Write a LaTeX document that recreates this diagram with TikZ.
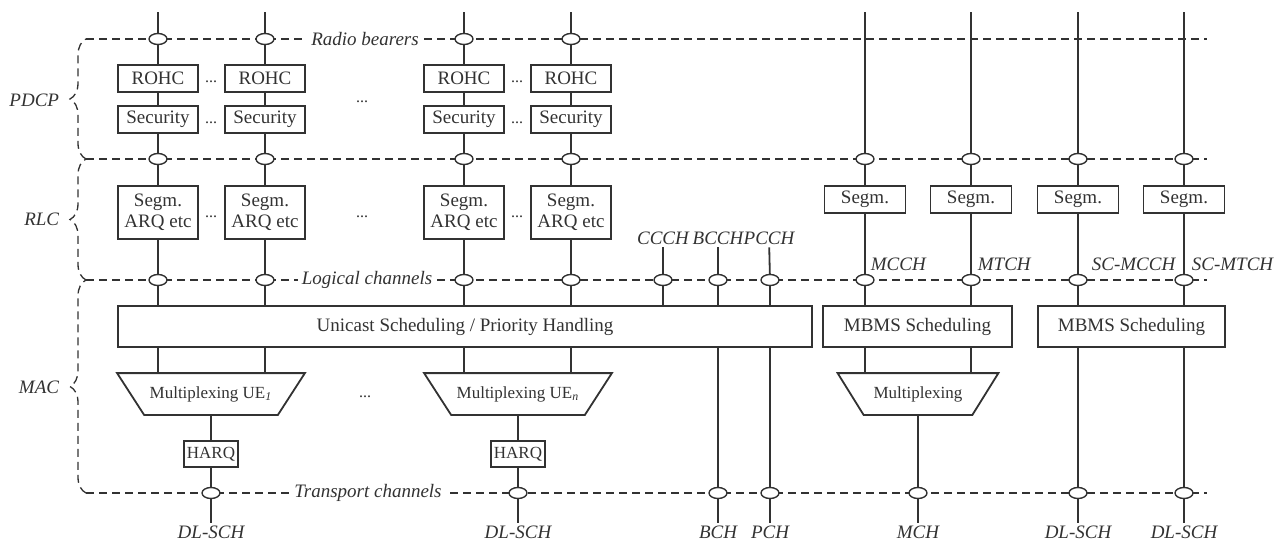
\documentclass[tikz,border=0pt]{standalone}
\usepackage{fontspec}
\setmainfont{Liberation Serif}
\usetikzlibrary{shapes.geometric,decorations.pathreplacing}
\definecolor{line_gray}{RGB}{50,50,50}

\begin{document}
\begin{tikzpicture}[-,line width=0.9pt,color=line_gray,x=0.5pt,y=-0.5pt]
    \tikzstyle{box}=[draw, rectangle, inner sep=0pt, align=center, font=\fontsize{9.5}{10.5}\selectfont]
    \tikzstyle{pdcpbox}=[box, minimum width=40pt, minimum height=13.5pt]
    \tikzstyle{rlcbox}=[box, minimum width=40pt, minimum height=26.5pt]
    \tikzstyle{segbox}=[box, minimum width=40.5pt, minimum height=13.5pt]
    \tikzstyle{schedbox}=[box, minimum height=20.5pt]
    \tikzstyle{harqbox}=[box, minimum width=27pt, minimum height=13pt, font=\fontsize{8.5}{9}\selectfont]
    \tikzstyle{mux}=[rectangle, minimum height=20pt, inner sep=0pt, font=\fontsize{8.5}{9}\selectfont]
    \tikzstyle{oval}=[draw, ellipse, fill=white, inner sep=0pt, minimum width=9pt, minimum height=5.5pt, line width=0.7pt]
    \tikzstyle{chan}=[inner sep=1pt, font=\fontsize{9.5}{10.5}\selectfont\itshape]
    \tikzstyle{sepline}=[line width=0.65pt, dash pattern=on 4pt off 2.5pt]
    \tikzstyle{gap}=[inner sep=0pt, font=\fontsize{8}{8}\selectfont]

    \useasboundingbox (0,0) rectangle (1287,542);

    % layer borders
    \draw[sepline] (86,39) -- (1207,39);
    \draw[sepline] (86,159) -- (1207,159);
    \draw[sepline] (86,280) -- (1207,280);
    \draw[sepline] (86,493) -- (1207,493);
    \draw[sepline, decorate, decoration={brace,amplitude=8pt}] (86,159) -- (86,39);
    \draw[sepline, decorate, decoration={brace,amplitude=8pt}] (86,280) -- (86,159);
    \draw[sepline, decorate, decoration={brace,amplitude=8pt}] (86,493) -- (86,280);

    \node[chan, anchor=east] (pdcp) at (62,100) {PDCP};
    \node[chan, anchor=east] (rlc)  at (62,219) {RLC};
    \node[chan, anchor=east] (mac)  at (62,387) {MAC};

    \node[chan, fill=white, inner sep=2pt] (rb) at (365,39)  {Radio bearers};
    \node[chan, fill=white, inner sep=2pt] (lc) at (367,280) {Logical channels};
    \node[chan, fill=white, inner sep=2pt] (tc) at (368,493) {Transport channels};

    % top ends
    \coordinate (ta) at (158,12);
    \coordinate (tb) at (265,12);
    \coordinate (tc) at (464,12);
    \coordinate (td) at (571,12);
    \coordinate (te) at (865,12);
    \coordinate (tf) at (971,12);
    \coordinate (tg) at (1078,12);
    \coordinate (th) at (1184,12);

    % radio bearers
    \node[oval] (ba) at (158,39) {};
    \node[oval] (bb) at (265,39) {};
    \node[oval] (bc) at (464,39) {};
    \node[oval] (bd) at (571,39) {};

    % PDCP
    \node[pdcpbox] (ra) at (158,78.5) {ROHC};
    \node[pdcpbox] (rb) at (265,78.5) {ROHC};
    \node[pdcpbox] (rc) at (464,78.5) {ROHC};
    \node[pdcpbox] (rd) at (571,78.5) {ROHC};
    \node[pdcpbox] (sa) at (158,119.5) {Security};
    \node[pdcpbox] (sb) at (265,119.5) {Security};
    \node[pdcpbox] (sc) at (464,119.5) {Security};
    \node[pdcpbox] (sd) at (571,119.5) {Security};

    % PDCP/RLC
    \node[oval] (pa) at (158,159) {};
    \node[oval] (pb) at (265,159) {};
    \node[oval] (pc) at (464,159) {};
    \node[oval] (pd) at (571,159) {};
    \node[oval] (pe) at (865,159) {};
    \node[oval] (pf) at (971,159) {};
    \node[oval] (pg) at (1078,159) {};
    \node[oval] (ph) at (1184,159) {};

    % RLC
    \node[rlcbox] (ga) at (158,212.5) {Segm.\\ARQ etc};
    \node[rlcbox] (gb) at (265,212.5) {Segm.\\ARQ etc};
    \node[rlcbox] (gc) at (464,212.5) {Segm.\\ARQ etc};
    \node[rlcbox] (gd) at (571,212.5) {Segm.\\ARQ etc};
    \node[segbox] (ge) at (865,199.5) {Segm.};
    \node[segbox] (gf) at (971,199.5) {Segm.};
    \node[segbox] (gg) at (1078,199.5) {Segm.};
    \node[segbox] (gh) at (1184,199.5) {Segm.};

    \node[gap] (d1) at (211,82) {...};
    \node[gap] (d2) at (211,123) {...};
    \node[gap] (d3) at (211,217) {...};
    \node[gap] (d4) at (517,82) {...};
    \node[gap] (d5) at (517,123) {...};
    \node[gap] (d6) at (517,217) {...};
    \node[gap] (d7) at (362,102) {...};
    \node[gap] (d8) at (362,217) {...};
    \node[gap] (d9) at (365,397) {...};

    % logical channels
    \node[chan] (ccch) at (663,238) {CCCH};
    \node[chan] (bcch) at (718,238) {BCCH};
    \node[chan] (pcch) at (769,238) {PCCH};
    \node[chan, anchor=west] (mcch) at (868,264) {MCCH};
    \node[chan, anchor=west] (mtch) at (975,264) {MTCH};
    \node[chan, anchor=west] (smcch) at (1089,264) {SC-MCCH};
    \node[chan, anchor=west] (smtch) at (1189,264) {SC-MTCH};

    \node[oval] (la) at (158,280) {};
    \node[oval] (lb) at (265,280) {};
    \node[oval] (lc) at (464,280) {};
    \node[oval] (ld) at (571,280) {};
    \node[oval] (lx) at (663,280) {};
    \node[oval] (ly) at (718,280) {};
    \node[oval] (lz) at (770,280) {};
    \node[oval] (le) at (865,280) {};
    \node[oval] (lf) at (971,280) {};
    \node[oval] (lg) at (1078,280) {};
    \node[oval] (lh) at (1184,280) {};

    % MAC
    \node[schedbox, minimum width=347pt] (uni) at (465,326.5) {Unicast Scheduling / Priority Handling};
    \node[schedbox, minimum width=94.5pt] (mb1) at (917.5,326.5) {MBMS Scheduling};
    \node[schedbox, minimum width=93.5pt] (mb2) at (1131.5,326.5) {MBMS Scheduling};

    \node[mux, minimum width=93pt] (mx1) at (211,394) {Multiplexing UE\textsubscript{\textit{1}}};
    \node[mux, minimum width=93pt] (mx2) at (518,394) {Multiplexing UE\textsubscript{\textit{n}}};
    \node[mux, minimum width=79.5pt] (mx3) at (918,394) {Multiplexing};
    \draw (mx1.north west) -- (mx1.north east) -- ([xshift=-13.5pt]mx1.south east) -- ([xshift=13.5pt]mx1.south west) -- cycle;
    \draw (mx2.north west) -- (mx2.north east) -- ([xshift=-13.5pt]mx2.south east) -- ([xshift=13.5pt]mx2.south west) -- cycle;
    \draw (mx3.north west) -- (mx3.north east) -- ([xshift=-13pt]mx3.south east) -- ([xshift=13pt]mx3.south west) -- cycle;

    \node[harqbox] (ha) at (211,454) {HARQ};
    \node[harqbox] (hb) at (518,454) {HARQ};

    % transport channels
    \node[oval] (xa) at (211,493) {};
    \node[oval] (xb) at (518,493) {};
    \node[oval] (xc) at (718,493) {};
    \node[oval] (xd) at (770,493) {};
    \node[oval] (xe) at (918,493) {};
    \node[oval] (xf) at (1078,493) {};
    \node[oval] (xg) at (1184,493) {};

    \node[chan] (dla) at (211,532) {DL-SCH};
    \node[chan] (dlb) at (518,532) {DL-SCH};
    \node[chan] (bch) at (718,532) {BCH};
    \node[chan] (pch) at (770,532) {PCH};
    \node[chan] (mch) at (918,532) {MCH};
    \node[chan] (dlc) at (1078,532) {DL-SCH};
    \node[chan] (dld) at (1184,532) {DL-SCH};

    \path
     (ta) edge (ba)  (ba) edge (ra)  (ra) edge (sa)  (sa) edge (pa)  (pa) edge (ga)  (ga) edge (la)
     (tb) edge (bb)  (bb) edge (rb)  (rb) edge (sb)  (sb) edge (pb)  (pb) edge (gb)  (gb) edge (lb)
     (tc) edge (bc)  (bc) edge (rc)  (rc) edge (sc)  (sc) edge (pc)  (pc) edge (gc)  (gc) edge (lc)
     (td) edge (bd)  (bd) edge (rd)  (rd) edge (sd)  (sd) edge (pd)  (pd) edge (gd)  (gd) edge (ld)
     (te) edge (pe)  (pe) edge (ge)  (ge) edge (le)
     (tf) edge (pf)  (pf) edge (gf)  (gf) edge (lf)
     (tg) edge (pg)  (pg) edge (gg)  (gg) edge (lg)
     (th) edge (ph)  (ph) edge (gh)  (gh) edge (lh)
     (ccch) edge (lx)  (bcch) edge (ly)  (pcch) edge (lz)
     (la) edge (la |- uni.north)  (lb) edge (lb |- uni.north)
     (lc) edge (lc |- uni.north)  (ld) edge (ld |- uni.north)
     (lx) edge (lx |- uni.north)  (ly) edge (ly |- uni.north)  (lz) edge (lz |- uni.north)
     (le) edge (le |- mb1.north)  (lf) edge (lf |- mb1.north)
     (lg) edge (lg |- mb2.north)  (lh) edge (lh |- mb2.north)
     (la |- uni.south) edge (la |- mx1.north)  (lb |- uni.south) edge (lb |- mx1.north)
     (lc |- uni.south) edge (lc |- mx2.north)  (ld |- uni.south) edge (ld |- mx2.north)
     (le |- mb1.south) edge (le |- mx3.north)  (lf |- mb1.south) edge (lf |- mx3.north)
     (mx1) edge (ha)  (ha) edge (xa)  (xa) edge (dla)
     (mx2) edge (hb)  (hb) edge (xb)  (xb) edge (dlb)
     (ly |- uni.south) edge (xc)  (xc) edge (bch)
     (lz |- uni.south) edge (xd)  (xd) edge (pch)
     (mx3) edge (xe)  (xe) edge (mch)
     (lg |- mb2.south) edge (xf)  (xf) edge (dlc)
     (lh |- mb2.south) edge (xg)  (xg) edge (dld)
     ;
  \end{tikzpicture}
\end{document}
